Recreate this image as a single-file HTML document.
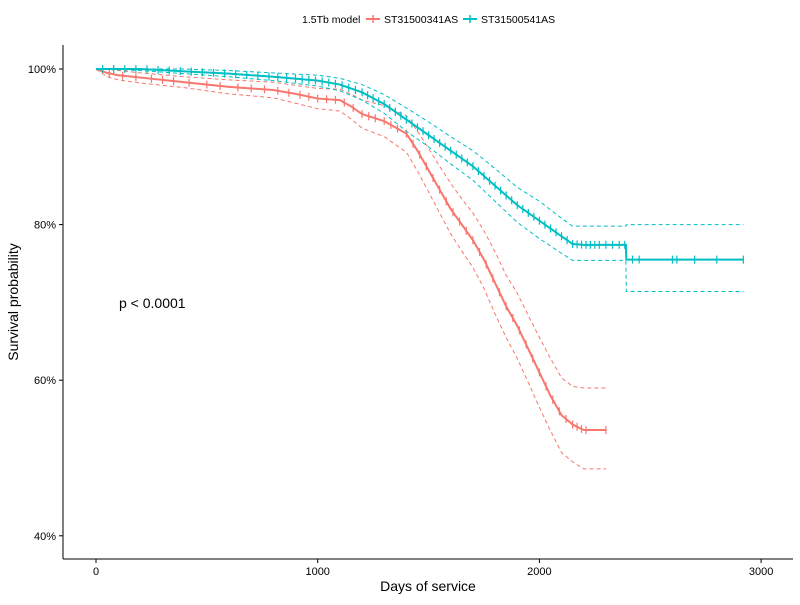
<!DOCTYPE html>
<html><head><meta charset="utf-8"><style>
body{margin:0;background:#fff;font-family:"Liberation Sans",sans-serif}
svg text{font-family:"Liberation Sans",sans-serif}
</style></head><body>
<svg id="c" width="800" height="600" xmlns="http://www.w3.org/2000/svg">
<g>
<text x="302" y="23" font-size="10.5" fill="#000">1.5Tb model</text>
<g>
<line x1="366" y1="19" x2="380" y2="19" stroke="#F8766D" stroke-width="2"/><line x1="373" y1="15" x2="373" y2="23" stroke="#F8766D" stroke-width="1.5"/>
<text x="384" y="23" font-size="10.5" fill="#000">ST31500341AS</text></g>
<g>
<line x1="463" y1="19" x2="477" y2="19" stroke="#00BFC4" stroke-width="2"/><line x1="470" y1="15" x2="470" y2="23" stroke="#00BFC4" stroke-width="1.5"/>
<text x="481" y="23" font-size="10.5" fill="#000">ST31500541AS</text></g>
</g>
<g id="plot"></g>
<line x1="63" y1="45" x2="63" y2="559" stroke="#000" stroke-width="1"/>
<line x1="63" y1="559" x2="793" y2="559" stroke="#000" stroke-width="1"/>
<g id="ax"></g>
<text x="428" y="591" font-size="14" text-anchor="middle">Days of service</text>
<text transform="translate(18,302) rotate(-90)" font-size="14" text-anchor="middle">Survival probability</text>
<text x="119" y="308" font-size="14">p &lt; 0.0001</text>
</svg>
<script>
const xTicks=[0,1000,2000,3000];
const yTicks=[40,60,80,100];
const redDays=[0,50,100,200,400,600,800,900,1000,1100,1150,1200,1300,1400,1450,1500,1550,1600,1650,1700,1750,1800,1850,1900,1950,2000,2050,2100,2150,2200,2300];
const redSurv=[100,99.5,99.2,98.9,98.3,97.7,97.3,96.8,96.2,96.0,95.2,94.2,93.3,91.7,89.5,87.0,84.5,82.0,80.0,78.0,75.5,72.5,69.5,67,64,61,58,55.5,54.3,53.6,53.6];
const redUpper=[100,100,99.8,99.5,99.0,98.6,98.3,97.9,97.5,97.4,96.8,96,95.3,94,92,89.8,87.5,85.3,83.3,81.5,79.2,76.5,73.5,71.2,68.3,65.5,62.8,60.3,59.2,59.0,59.0];
const redLower=[100,99.0,98.6,98.2,97.6,96.8,96.3,95.6,94.9,94.6,93.6,92.4,91.3,89.3,86.9,84.2,81.5,78.8,76.6,74.5,71.8,68.5,65.5,62.8,59.7,56.5,53.5,50.7,49.5,48.6,48.6];
const tealDays=[0,200,400,600,800,1000,1100,1200,1300,1400,1500,1600,1700,1800,1900,2000,2100,2150,2200,2390,2392,2920];
const tealSurv=[100,100,99.7,99.4,99,98.5,98.0,97,95.5,93.5,91.5,89.5,87.5,85,82.5,80.5,78.5,77.5,77.4,77.4,75.5,75.5];
const tealUpper=[100,100,100,99.8,99.5,99.2,98.8,98,96.7,95,93.2,91.3,89.5,87.2,84.8,83,80.8,79.8,79.8,79.8,80.0,80.0];
const tealLower=[100,99.8,99.4,99,98.5,97.8,97.2,96,94.3,92,90,87.8,85.7,83,80.3,78.2,76.3,75.4,75.4,75.4,71.4,71.4];
const redCensor=[60,120,180,250,300,350,420,500,560,640,700,760,820,870,920,960,1000,1040,1080,1120,1160,1200,1230,1260,1300,1330,1360,1400,1430,1460,1490,1520,1550,1580,1610,1640,1670,1700,1730,1760,1790,1820,1850,1880,1910,1940,1970,2000,2030,2060,2090,2120,2150,2170,2190,2210,2300];
const tealCensor=[30,80,130,180,230,280,330,380,430,480,530,580,630,680,730,780,820,860,900,930,960,990,1020,1050,1080,1110,1140,1170,1200,1225,1250,1275,1300,1325,1350,1375,1400,1425,1450,1475,1500,1525,1550,1575,1600,1625,1650,1675,1700,1725,1750,1775,1800,1825,1850,1875,1900,1925,1950,1975,2000,2025,2050,2075,2100,2125,2150,2170,2190,2210,2230,2250,2270,2300,2330,2360,2385,2420,2450,2600,2620,2700,2800,2920];
const X=d=>96+d*0.2217, Y=v=>69+(100-v)*7.78;
const NS="http://www.w3.org/2000/svg";
const plot=document.getElementById('plot'), ax=document.getElementById('ax');
function linePath(days,vals){let s=`M${X(days[0])},${Y(vals[0])}`;for(let i=1;i<days.length;i++){s+=` L${X(days[i])},${Y(vals[i])}`;}return s;}
function survAt(days,vals,d){for(let i=1;i<days.length;i++){if(days[i]>=d){const f=(d-days[i-1])/(days[i]-days[i-1]);return vals[i-1]+f*(vals[i]-vals[i-1]);}}return vals[vals.length-1];}
function addPath(d,col,dash,w,name){const p=document.createElementNS(NS,'path');p.setAttribute('d',d);p.setAttribute('fill','none');p.setAttribute('stroke',col);p.setAttribute('stroke-width',w);if(dash)p.setAttribute('stroke-dasharray','4,3');


plot.appendChild(p);}
function series(days,s,u,l,cens,col,nm){
addPath(linePath(days,u),col,true,1,nm+'-upper-ci');
addPath(linePath(days,l),col,true,1,nm+'-lower-ci');
addPath(linePath(days,s),col,false,2,nm+'-curve');
cens.forEach(d=>{const v=survAt(days,s,d);const t=document.createElementNS(NS,'line');t.setAttribute('x1',X(d));t.setAttribute('x2',X(d));t.setAttribute('y1',Y(v)-4);t.setAttribute('y2',Y(v)+4);t.setAttribute('stroke',col);t.setAttribute('stroke-width',1.2);


plot.appendChild(t);});}
series(redDays,redSurv,redUpper,redLower,redCensor,'#F8766D','st31500341as');
series(tealDays,tealSurv,tealUpper,tealLower,tealCensor,'#00BFC4','st31500541as');
xTicks.forEach(t=>{const l=document.createElementNS(NS,'line');l.setAttribute('x1',X(t));l.setAttribute('x2',X(t));l.setAttribute('y1',559);l.setAttribute('y2',563);l.setAttribute('stroke','#000');


ax.appendChild(l);const tx=document.createElementNS(NS,'text');tx.setAttribute('x',X(t));tx.setAttribute('y',575);tx.setAttribute('font-size','11');tx.setAttribute('text-anchor','middle');tx.textContent=t;


ax.appendChild(tx);});
yTicks.forEach(t=>{const l=document.createElementNS(NS,'line');l.setAttribute('x1',59);l.setAttribute('x2',63);l.setAttribute('y1',Y(t));l.setAttribute('y2',Y(t));l.setAttribute('stroke','#000');


ax.appendChild(l);const tx=document.createElementNS(NS,'text');tx.setAttribute('x',56);tx.setAttribute('y',Y(t)+4);tx.setAttribute('font-size','11');tx.setAttribute('text-anchor','end');tx.textContent=t+'%';


ax.appendChild(tx);});
</script>
</body></html>
